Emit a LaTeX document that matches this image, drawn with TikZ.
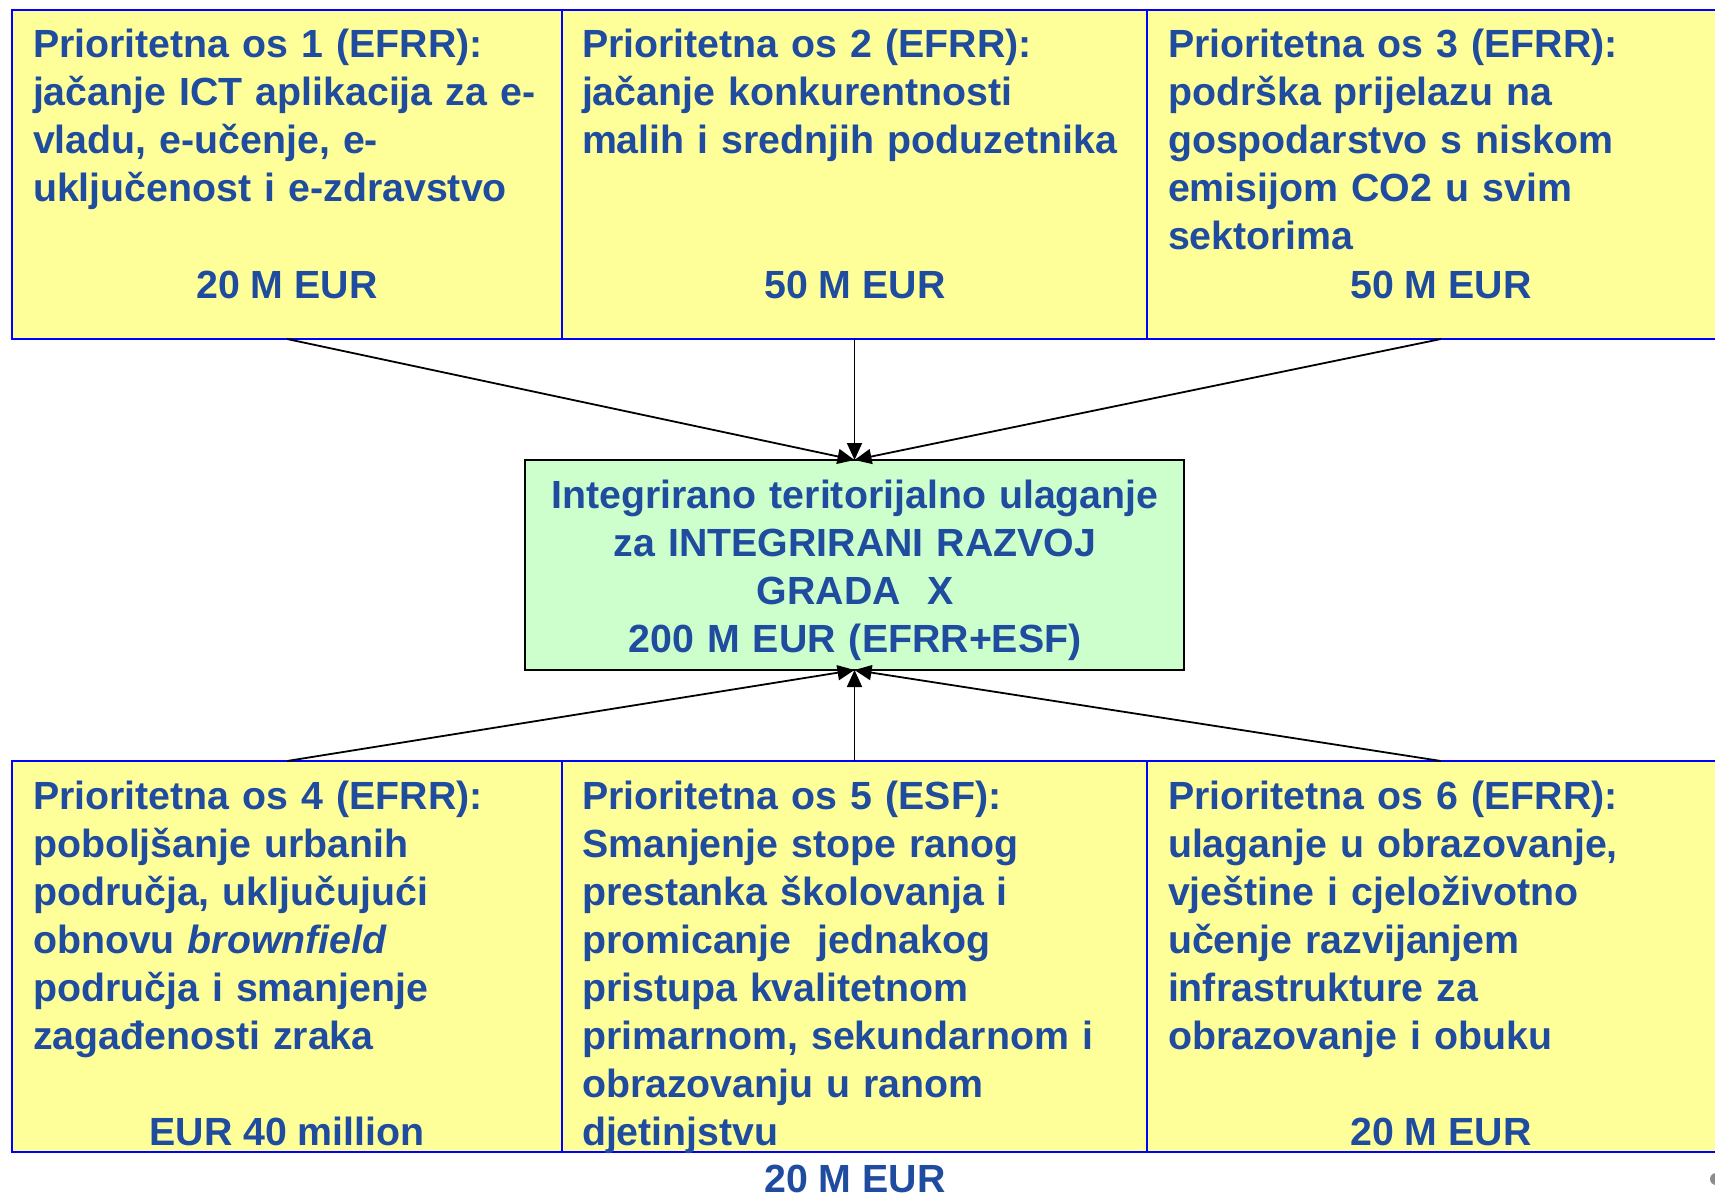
\documentclass[tikz,border=0pt]{standalone}
\usepackage{fontspec}
\setmainfont{Liberation Sans}
\usetikzlibrary{arrows.meta}

\newlength{\du}
\setlength{\du}{1pt}

\definecolor{diatextcolor}{rgb}{0.120000, 0.300000, 0.620000}
\definecolor{diaboxcolor}{rgb}{1.000000, 1.000000, 0.600000}
\definecolor{diaitucolor}{rgb}{0.800000, 1.000000, 0.800000}
\definecolor{diabordercolor}{rgb}{0.000000, 0.000000, 1.000000}

\tikzset{
  osbox/.style={rectangle, anchor=north west, inner sep=0pt, outer sep=0pt,
    draw=diabordercolor, fill=diaboxcolor, line width=2.2\du},
  itubox/.style={rectangle, anchor=north west, inner sep=0pt, outer sep=0pt,
    draw=black, fill=diaitucolor, line width=1.6\du},
  ostext/.style={anchor=base west, inner sep=0pt, outer sep=0pt, text=diatextcolor,
    font=\fontsize{39.3}{48}\bfseries\selectfont, text width=600\du, align=left},
  itutext/.style={anchor=base, inner sep=0pt, outer sep=0pt, text=diatextcolor,
    font=\fontsize{39.3}{48}\bfseries\selectfont, text width=650\du, align=center},
  osamount/.style={anchor=base, inner sep=0pt, outer sep=0pt, text=diatextcolor,
    font=\fontsize{39.3}{48}\bfseries\selectfont},
  itulink/.style={draw=black, line width=1.8\du, -{Triangle[length=17pt,width=15pt]}}
}

\begin{document}
\begin{tikzpicture}[even odd rule]
\pgftransformxscale{1.000000}
\pgftransformyscale{-1.000000}
\useasboundingbox (0\du,0\du) rectangle (1715\du,1196\du);
\pgfsetmiterjoin
\pgfsetbuttcap
% top row
\node[osbox, minimum width=550\du, minimum height=329\du] (os1) at (12\du,10\du) {};
\node[osbox, minimum width=585\du, minimum height=329\du] (os2) at (562\du,10\du) {};
\node[osbox, minimum width=588\du, minimum height=329\du] (os3) at (1147\du,10\du) {};
% centre
\node[itubox, minimum width=659\du, minimum height=210\du] (itu) at (525\du,460\du) {};
% bottom row
\node[osbox, minimum width=550\du, minimum height=391\du] (os4) at (12\du,761\du) {};
\node[osbox, minimum width=585\du, minimum height=391\du] (os5) at (562\du,761\du) {};
\node[osbox, minimum width=588\du, minimum height=391\du] (os6) at (1147\du,761\du) {};
% texts
\node[ostext] (os1text) at (33\du,58\du){Prioritetna os 1 (EFRR):\\jačanje ICT aplikacija za e-\\vladu, e-učenje, e-\\uključenost i e-zdravstvo};
\node[osamount] (os1amount) at (287\du,298\du){20 M EUR};
\node[ostext] (os2text) at (582\du,58\du){Prioritetna os 2 (EFRR):\\jačanje konkurentnosti\\malih i srednjih poduzetnika};
\node[osamount] (os2amount) at (855\du,298\du){50 M EUR};
\node[ostext] (os3text) at (1168\du,58\du){Prioritetna os 3 (EFRR):\\podrška prijelazu na\\gospodarstvo s niskom\\emisijom CO2 u svim\\sektorima};
\node[osamount] (os3amount) at (1441\du,298\du){50 M EUR};
\node[itutext] (itutext) at (855\du,508\du){Integrirano teritorijalno ulaganje\\za INTEGRIRANI RAZVOJ\\GRADA~ X\\200 M EUR (EFRR+ESF)};
\node[ostext] (os4text) at (33\du,809\du){Prioritetna os 4 (EFRR):\\poboljšanje urbanih\\područja, uključujući\\obnovu \textit{brownfield}\\područja i smanjenje\\zagađenosti zraka};
\node[osamount] (os4amount) at (287\du,1145\du){EUR 40 million};
\node[ostext] (os5text) at (582\du,809\du){Prioritetna os 5 (ESF):\\Smanjenje stope ranog\\prestanka školovanja i\\promicanje~ jednakog\\pristupa kvalitetnom\\primarnom, sekundarnom i\\obrazovanju u ranom\\djetinjstvu};
\node[osamount] (os5amount) at (855\du,1192\du){20 M EUR};
\node[ostext] (os6text) at (1168\du,809\du){Prioritetna os 6 (EFRR):\\ulaganje u obrazovanje,\\vještine i cjeloživotno\\učenje razvijanjem\\infrastrukture za\\obrazovanje i obuku};
\node[osamount] (os6amount) at (1441\du,1145\du){20 M EUR};
% links
\draw[itulink] (os1.south) -- (itu.north);
\draw[itulink] (os2.south) -- (itu.north);
\draw[itulink] (os3.south) -- (itu.north);
\draw[itulink] (os4.north) -- (itu.south);
\draw[itulink] (os5.north) -- (itu.south);
\draw[itulink] (os6.north) -- (itu.south);
% was here
\fill[black!45] (1716\du,1179\du) circle (6\du);
\end{tikzpicture}
\end{document}
